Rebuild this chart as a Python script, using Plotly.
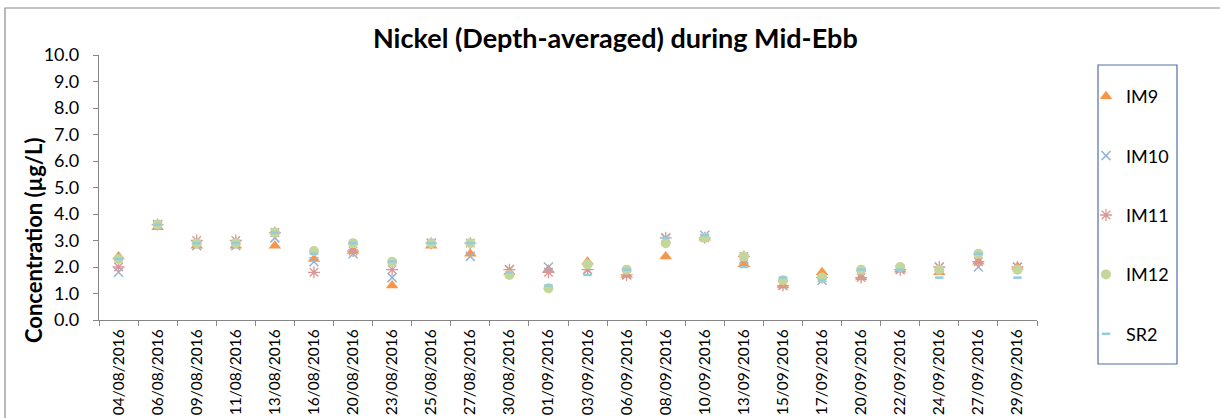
import plotly.graph_objects as go

# Sampling dates (category axis)
dates = ["04/08/2016", "06/08/2016", "09/08/2016", "11/08/2016", "13/08/2016",
         "16/08/2016", "20/08/2016", "23/08/2016", "25/08/2016", "27/08/2016",
         "30/08/2016", "01/09/2016", "03/09/2016", "06/09/2016", "08/09/2016",
         "10/09/2016", "13/09/2016", "15/09/2016", "17/09/2016", "20/09/2016",
         "22/09/2016", "24/09/2016", "27/09/2016", "29/09/2016"]

# Depth-averaged nickel concentration (ug/L) per station
im9 = [2.4, 3.5, 2.8, 2.8, 2.8, 2.3, 2.6, 1.3, 2.8, 2.5, 1.8, 1.9,
       2.2, 1.7, 2.4, 3.1, 2.1, 1.3, 1.8, 1.6, 1.9, 1.8, 2.2, 2.0]
im10 = [1.8, 3.6, 2.8, 2.8, 3.1, 2.2, 2.5, 1.6, 2.9, 2.4, 1.9, 2.0,
        1.9, 1.7, 3.1, 3.2, 2.3, 1.3, 1.5, 1.7, 1.9, 2.0, 2.0, 2.0]
im11 = [2.0, 3.6, 3.0, 3.0, 3.3, 1.8, 2.6, 1.9, 2.9, 2.9, 1.9, 1.8,
        1.9, 1.7, 3.1, 3.1, 2.4, 1.3, 1.6, 1.6, 1.9, 2.0, 2.2, 2.0]
im12 = [2.3, 3.6, 2.9, 2.9, 3.3, 2.6, 2.9, 2.2, 2.9, 2.9, 1.7, 1.2,
        2.1, 1.9, 2.9, 3.1, 2.4, 1.5, 1.6, 1.9, 2.0, 1.9, 2.5, 1.9]
sr2 = [2.3, 3.6, 2.9, 2.9, 3.3, 2.5, 2.9, 2.2, 2.9, 2.9, 1.8, 1.3,
       1.7, 1.9, 3.1, 3.2, 2.0, 1.6, 1.5, 1.9, 1.9, 1.6, 2.5, 1.6]

y_ticks = [0, 1, 2, 3, 4, 5, 6, 7, 8, 9, 10]

FONT = "Lato, 'Open Sans', sans-serif"
W, H = 1220, 418
L, R, T, B = 99, 183, 55, 98
PW, PH = W - L - R, H - T - B


def px_x(px):
    return (px - L) / PW


def px_y(py):
    return (H - B - py) / PH


series = [
    ("IM9", im9, dict(symbol="triangle-up", size=11, color="#F79646")),
    ("IM10", im10, dict(symbol="x-thin-open", size=9, color="#95B3D7",
                        line=dict(color="#95B3D7", width=1.5))),
    ("IM11", im11, dict(symbol="asterisk-open", size=10, color="#D99694",
                        line=dict(color="#D99694", width=1.3))),
    ("IM12", im12, dict(symbol="circle", size=10, color="#C3D69B")),
    ("SR2", sr2, dict(symbol="line-ew-open", size=6, color="#93CDDD",
                      line=dict(color="#93CDDD", width=2.5))),
]

fig = go.Figure()
for name, vals, marker in series:
    fig.add_trace(go.Scatter(
        x=dates, y=vals, name=name, mode="markers",
        marker=marker, legendgroup=name,
    ))

fig.update_layout(
    width=W, height=H,
    margin=dict(l=L, r=R, t=T, b=B, pad=0, autoexpand=False),
    paper_bgcolor="white", plot_bgcolor="white",
    font=dict(family=FONT, color="#000000"),
    showlegend=True,
    legend=dict(
        x=px_x(1086), y=px_y(78), xanchor="left", yanchor="top",
        borderwidth=0, bgcolor="rgba(0,0,0,0)",
        font=dict(size=18, family=FONT),
        traceorder="grouped", tracegroupgap=33,
        itemwidth=30, maxheight=360,
    ),
    annotations=[
        dict(text="<b>Nickel (Depth-averaged) during Mid-Ebb</b>",
             xref="paper", yref="paper", x=px_x(615), y=px_y(37),
             xanchor="center", yanchor="middle", showarrow=False,
             font=dict(size=27, family=FONT)),
        dict(text="<b>Concentration (µg/L)</b>",
             xref="paper", yref="paper", x=px_x(33), y=px_y(241),
             xanchor="center", yanchor="middle", showarrow=False,
             textangle=-90, font=dict(size=22, family=FONT)),
    ],
    shapes=[
        # outer chart-area frame
        dict(type="rect", xref="paper", yref="paper",
             x0=px_x(5), x1=px_x(1240), y0=px_y(440), y1=px_y(8),
             line=dict(color="#8C8C8C", width=1.2), layer="below"),
        # legend frame
        dict(type="rect", xref="paper", yref="paper",
             x0=px_x(1098), x1=px_x(1177), y0=px_y(364), y1=px_y(65),
             line=dict(color="#4F6FA8", width=1.2), layer="below"),
    ],
)

fig.update_xaxes(
    type="category", range=[-0.5, len(dates) - 0.5], automargin=False,
    showline=True, linecolor="#868686", linewidth=1.3,
    ticks="outside", tickson="boundaries", ticklen=5, tickcolor="#868686",
    tickangle=-90, tickfont=dict(size=15.5, family=FONT),
    ticklabelstandoff=2,
    showgrid=False, zeroline=False,
)
fig.update_yaxes(
    range=[0, 10], tickvals=y_ticks, tickformat=".1f", automargin=False,
    showline=True, linecolor="#868686", linewidth=1.3,
    ticks="outside", ticklen=5, tickcolor="#868686",
    tickfont=dict(size=18, family=FONT), ticklabelstandoff=10,
    showgrid=False, zeroline=False,
)

fig.write_html("out.html")
